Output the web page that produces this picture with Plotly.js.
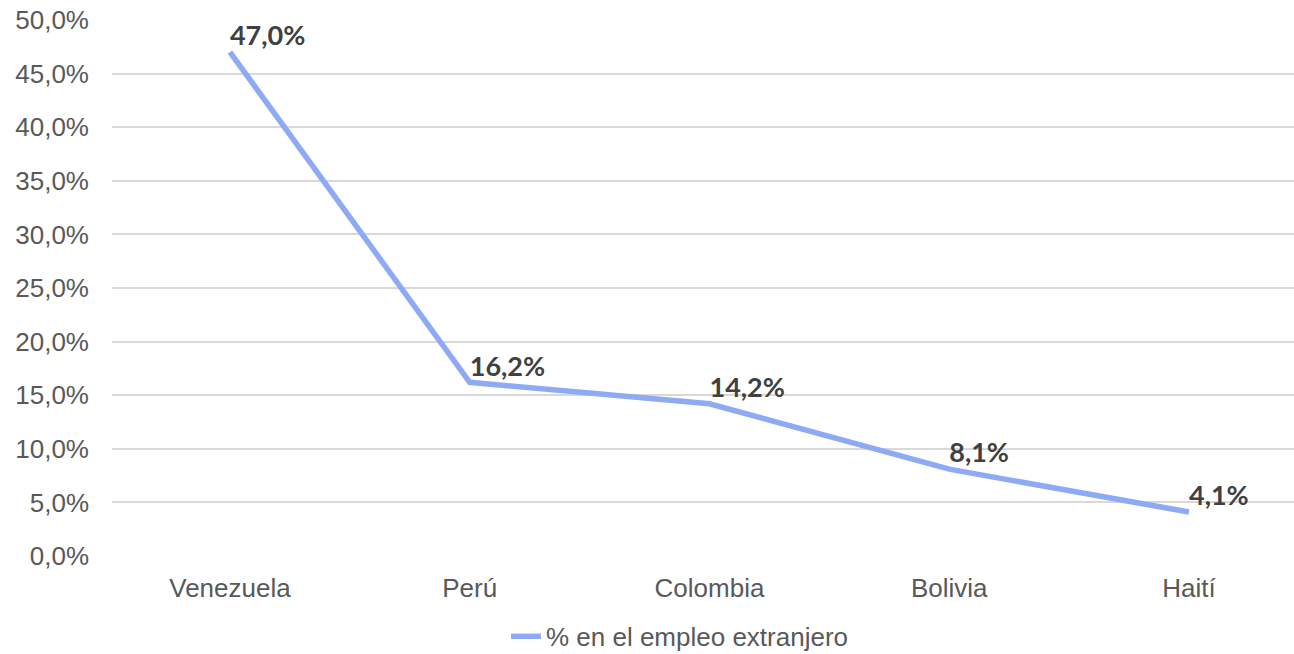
<!DOCTYPE html>
<html>
<head>
<meta charset="utf-8">
<script src="https://cdn.plot.ly/plotly-3.0.1.min.js"></script>
<style>html,body{margin:0;padding:0;background:#fff;}#chart{width:1294px;height:654px;}</style>
</head>
<body>
<div id="chart"></div>
<script>
const categories = ["Venezuela", "Perú", "Colombia", "Bolivia", "Haití"];
const values = [47.0, 16.2, 14.2, 8.1, 4.1];
const seriesName = "% en el empleo extranjero";
const yTicks = [0, 5, 10, 15, 20, 25, 30, 35, 40, 45, 50];

const fmt = v => v.toFixed(1).replace(".", ",") + "%";

const trace = {
  x: categories,
  y: values,
  name: seriesName,
  type: "scatter",
  mode: "lines+text",
  line: {color: "#8FAAF5", width: 5.5},
  text: values.map(fmt),
  textposition: "top right",
  textfont: {family: "Lato, sans-serif", size: 27, color: "#404040", weight: "bold"},
  cliponaxis: false,
  hoverinfo: "none"
};

const layout = {
  width: 1294,
  height: 654,
  margin: {l: 112, r: 0, t: 20, b: 98, autoexpand: false},
  paper_bgcolor: "#ffffff",
  plot_bgcolor: "#ffffff",
  font: {family: "Liberation Sans, Arial, sans-serif", size: 26, color: "#595959"},
  xaxis: {
    type: "category",
    range: [-0.492, 4.438],
    showgrid: false,
    zeroline: false,
    showline: false,
    ticks: "",
    automargin: false,
    ticklabelstandoff: 14,
    tickfont: {size: 26, color: "#595959"},
    fixedrange: true
  },
  yaxis: {
    range: [0, 50],
    tickvals: yTicks,
    ticktext: yTicks.map(fmt),
    showgrid: true,
    gridcolor: "#D9D9D9",
    gridwidth: 2,
    zeroline: false,
    showline: false,
    ticks: "",
    ticklen: 0,
    automargin: false,
    ticklabelstandoff: 22,
    tickfont: {size: 26, color: "#595959"},
    fixedrange: true
  },
  showlegend: true,
  legend: {
    orientation: "h",
    x: 0.4805, xref: "paper", xanchor: "center",
    y: -0.15, yanchor: "middle",
    font: {size: 26, color: "#595959"}
  }
};

Plotly.newPlot("chart", [trace], layout, {displayModeBar: false, staticPlot: true});
</script>
</body>
</html>
